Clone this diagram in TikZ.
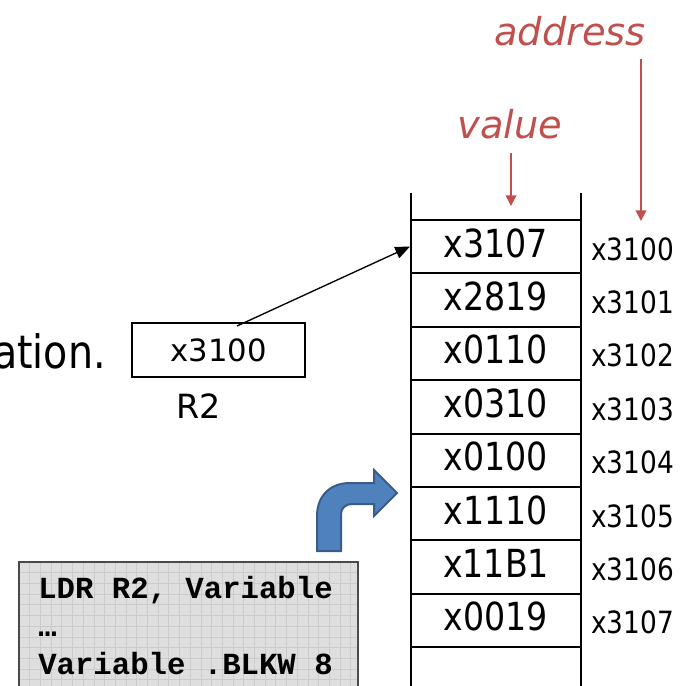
\documentclass[tikz,border=0pt]{standalone}
\usepackage{fontspec}
\setmainfont{DejaVu Sans}
\newfontfamily\tah{DejaVu Sans}[FakeStretch=0.86]
\newfontfamily\codefont{Liberation Mono}
\usetikzlibrary{arrows.meta}
\definecolor{redlbl}{HTML}{C0504D}
\definecolor{bluefill}{HTML}{4F81BD}
\definecolor{blueedge}{HTML}{385D8A}
\definecolor{codebg}{HTML}{DEDEDE}
\definecolor{codegrid}{HTML}{CBCBCB}
\definecolor{codeedge}{HTML}{4A4A4A}
\tikzset{
  memline/.style={line width=1.5pt, black},
  valtxt/.style={anchor=base, inner sep=0pt, font=\tah\fontsize{29pt}{30pt}\selectfont},
  addrtxt/.style={anchor=base west, inner sep=0pt, font=\tah\fontsize{23pt}{24pt}\selectfont},
  redlabel/.style={anchor=base west, inner sep=0pt, text=redlbl, font=\itshape\fontsize{28.8pt}{29pt}\selectfont},
  redarrow/.style={draw=redlbl, line width=1.1pt, -{Triangle[length=8pt,width=8pt]}},
  codetxt/.style={anchor=base west, inner sep=0pt, font=\codefont\bfseries\fontsize{23pt}{24pt}\selectfont},
}
\begin{document}
\begin{tikzpicture}[x=0.75pt,y=-0.75pt]
\useasboundingbox (0,0) rectangle (687,686);
\clip (0,0) rectangle (687,686);

% partial text at left
\node[anchor=base east, inner sep=0pt, font=\tah\fontsize{34.5pt}{35pt}\selectfont] (ation) at (106,368) {ation.};

% red labels
\node[redlabel] (address) at (494,45) {address};
\node[redlabel] (value) at (457,138) {value};
\coordinate (vaS) at (511,153);
\coordinate (vaE) at (511,206);
\coordinate (adS) at (641,59);
\coordinate (adE) at (641,221);
\draw[redarrow] (vaS) -- (vaE);
\draw[redarrow] (adS) -- (adE);

% memory column
\draw[memline] (411,193) -- (411,690);
\draw[memline] (581,193) -- (581,690);
\foreach \i in {0,...,8}{
  \draw[memline] (411,220+53.4*\i) -- (581,220+53.4*\i);
}
\foreach \v [count=\i from 0] in {x3107,x2819,x0110,x0310,x0100,x1110,x11B1,x0019}{
  \node[valtxt] (v\i) at (496,257+53.4*\i) {\v};
}
\foreach \a [count=\i from 0] in {x3100,x3101,x3102,x3103,x3104,x3105,x3106,x3107}{
  \node[addrtxt] (a\i) at (591,260+53.4*\i) {\a};
}

% R2 register
\node[draw, line width=1pt, minimum width=173*0.75pt, minimum height=54*0.75pt, inner sep=0pt,
      font=\fontsize{23pt}{24pt}\selectfont] (r2box) at (218.5,350) {x3100};
\node[anchor=base, inner sep=0pt, font=\fontsize{25pt}{26pt}\selectfont] (r2lbl) at (199,418) {R2};
\coordinate (ptrS) at (237,326);
\coordinate (ptrE) at (410,246.5);
\draw[line width=1pt, -{Triangle[length=11pt,width=9pt]}] (ptrS) -- (ptrE);

% code box
\begin{scope}
  \clip (19,562) rectangle (358,700);
  \fill[codebg] (19,562) rectangle (358,700);
  \foreach \i in {0,...,32}{
    \draw[codegrid, line width=0.5pt] (19+10.7*\i,562) -- (19+10.7*\i,700);
  }
  \foreach \j in {0,...,13}{
    \draw[codegrid, line width=0.5pt] (19,562+10.7*\j) -- (358,562+10.7*\j);
  }
\end{scope}
\draw[codeedge, line width=1.5pt] (19,700) -- (19,562) -- (358,562) -- (358,700);
\node[codetxt] (c1) at (38,598) {LDR R2, Variable};
\node[codetxt] (c2) at (38,636) {…};
\node[codetxt] (c3) at (38,674) {Variable .BLKW 8};

% blue bent arrow
\draw[fill=bluefill, draw=blueedge, line width=1.5pt, line join=miter]
  (317,551) -- (317,516)
  .. controls (317,496) and (330,483) .. (350,483)
  -- (374,483) -- (374,470) -- (397,493) -- (374,516) -- (374,504)
  -- (352,504) .. controls (346,504) and (341,508) .. (341,514)
  -- (341,551) -- cycle;
\end{tikzpicture}
\end{document}
